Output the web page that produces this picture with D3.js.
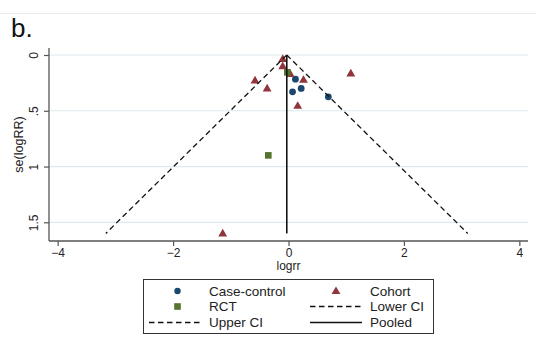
<!DOCTYPE html>
<html>
<head>
<meta charset="utf-8">
<script src="https://cdn.jsdelivr.net/npm/d3@7"></script>
<style>
  html, body { margin: 0; padding: 0; background: #fff; }
  svg { display: block; font-family: Arial, "Liberation Sans", Helvetica, sans-serif; }
</style>
</head>
<body>
<svg id="chart" width="536" height="344"></svg>
<script>
// Study estimates: [log RR, se(log RR)]
const caseControl = [[0.12, 0.217], [0.07, 0.33], [0.22, 0.30], [0.69, 0.375]];
const cohort = [[-0.10, 0.035], [-0.10, 0.10], [0.03, 0.17], [-0.58, 0.227], [-0.37, 0.30],
                [0.26, 0.222], [1.08, 0.165], [0.16, 0.455], [-1.14, 1.60]];
const rct = [[-0.02, 0.155], [-0.35, 0.90]];
const pooled = -0.03;
const seMax = 1.60;
const xTicks = [-4, -2, 0, 2, 4];
const yTicks = [0, 0.5, 1, 1.5];
const yTickLabels = ["0", ".5", "1", "1.5"];
const legendItems = ["Case-control", "Cohort", "RCT", "Lower CI", "Upper CI", "Pooled"];

const colors = { cc: "#1a476f", cohort: "#90353b", rct: "#55752f" };

const svg = d3.select("#chart");

const x = d3.scaleLinear().domain([-4.15, 4.15]).range([49, 528]);
const y = d3.scaleLinear().domain([0, 1.5]).range([55, 222.3]);
const plotTop = 48, plotBottom = 241;

// thin separator at the top of the panel
svg.append("line").attr("x1", 0).attr("x2", 536).attr("y1", 13.5).attr("y2", 13.5)
  .attr("stroke", "#e4ecef").attr("stroke-width", 1.2);

// panel letter
svg.append("text").attr("x", 11).attr("y", 37).attr("font-size", 26).attr("fill", "#111").text("b.");

// gridlines
svg.append("g").selectAll("line").data(yTicks).join("line")
  .attr("x1", x.range()[0]).attr("x2", x.range()[1])
  .attr("y1", d => y(d)).attr("y2", d => y(d))
  .attr("stroke", "#dde9ed").attr("stroke-width", 1.2);

// axes
const xAxis = d3.axisBottom(x).tickValues(xTicks).tickSize(5).tickPadding(2).tickFormat(d3.format("d"));
const gx = svg.append("g").attr("transform", `translate(0,${plotBottom})`).call(xAxis);
gx.select(".domain").attr("stroke", "#555").attr("stroke-width", 1.3).attr("d", `M${x.range()[0]},0H${x.range()[1]}`);
gx.selectAll(".tick line").attr("stroke", "#555").attr("stroke-width", 1.2);
gx.selectAll(".tick text").attr("font-size", 12).attr("fill", "#222").attr("font-family", "Arial, 'Liberation Sans', sans-serif");

const yAxis = d3.axisLeft(y).tickValues(yTicks).tickSize(5).tickFormat((d, i) => yTickLabels[i]);
const gy = svg.append("g").attr("transform", `translate(${x.range()[0]},0)`).call(yAxis);
gy.select(".domain").attr("stroke", "#555").attr("stroke-width", 1.3).attr("d", `M0,${plotTop}V${plotBottom}`);
gy.selectAll(".tick line").attr("stroke", "#555").attr("stroke-width", 1.2);
gy.selectAll(".tick text")
  .attr("font-size", 12).attr("fill", "#222").attr("font-family", "Arial, 'Liberation Sans', sans-serif")
  .attr("x", null).attr("dy", null).attr("text-anchor", "middle")
  .attr("transform", "translate(-11,0) rotate(-90)");

// axis titles
svg.append("text").attr("x", (x.range()[0] + x.range()[1]) / 2).attr("y", 269.5)
  .attr("text-anchor", "middle").attr("font-size", 12).attr("fill", "#222").text("logrr");
svg.append("text").attr("transform", `translate(23,${(plotTop + plotBottom) / 2}) rotate(-90)`)
  .attr("text-anchor", "middle").attr("font-size", 12.5).attr("fill", "#222").text("se(logRR)");

// markers
const tri = d3.symbol().type(d3.symbolTriangle).size(34);
const sq = d3.symbol().type(d3.symbolSquare).size(44);

svg.append("g").selectAll("circle").data(caseControl).join("circle")
  .attr("cx", d => x(d[0])).attr("cy", d => y(d[1])).attr("r", 3.4).attr("fill", colors.cc);
svg.append("g").selectAll("path").data(cohort).join("path")
  .attr("d", tri).attr("transform", d => `translate(${x(d[0])},${y(d[1]) + 0.5})`).attr("fill", colors.cohort);
svg.append("g").selectAll("path").data(rct).join("path")
  .attr("d", sq).attr("transform", d => `translate(${x(d[0])},${y(d[1])})`).attr("fill", colors.rct);

// pseudo 95% confidence limits and pooled estimate
const lower = [[pooled, 0], [pooled - 1.96 * seMax, seMax]];
const upper = [[pooled, 0], [pooled + 1.96 * seMax, seMax]];
const pooledLine = [[pooled, 0], [pooled, seMax]];
const line = d3.line().x(d => x(d[0])).y(d => y(d[1]));
svg.append("path").attr("d", line(lower)).attr("fill", "none").attr("stroke", "#111")
  .attr("stroke-width", 1.3).attr("stroke-dasharray", "5.5,3.5");
svg.append("path").attr("d", line(upper)).attr("fill", "none").attr("stroke", "#111")
  .attr("stroke-width", 1.3).attr("stroke-dasharray", "5.5,3.5");
svg.append("path").attr("d", line(pooledLine)).attr("fill", "none").attr("stroke", "#111")
  .attr("stroke-width", 1.6);

// legend
const lg = svg.append("g");
lg.append("rect").attr("x", 143.5).attr("y", 279.5).attr("width", 290).attr("height", 54)
  .attr("fill", "#fff").attr("stroke", "#333").attr("stroke-width", 1);
const rowY = [291, 306.5, 322.5];
const cols = [{ key: 177.5, lineX: [149, 202], text: 209 }, { key: 336, lineX: [310, 362], text: 370 }];
const keys = [
  { type: "circle" }, { type: "tri" }, { type: "square" },
  { type: "dash" }, { type: "dash" }, { type: "solid" }
];
legendItems.forEach((label, i) => {
  const c = cols[i % 2], ry = rowY[Math.floor(i / 2)], k = keys[i];
  if (k.type === "circle") {
    lg.append("circle").attr("cx", c.key).attr("cy", ry).attr("r", 3.2).attr("fill", colors.cc);
  } else if (k.type === "tri") {
    lg.append("path").attr("d", tri).attr("transform", `translate(${c.key},${ry + 0.5})`).attr("fill", colors.cohort);
  } else if (k.type === "square") {
    lg.append("path").attr("d", sq).attr("transform", `translate(${c.key},${ry})`).attr("fill", colors.rct);
  } else {
    lg.append("line").attr("x1", c.lineX[0]).attr("x2", c.lineX[1]).attr("y1", ry).attr("y2", ry)
      .attr("stroke", "#111").attr("stroke-width", 1.3)
      .attr("stroke-dasharray", k.type === "dash" ? "5.5,3.5" : null);
  }
  lg.append("text").attr("x", c.text).attr("y", ry + 4.8).attr("font-size", 13.5).attr("fill", "#222").text(label);
});
</script>
</body>
</html>
